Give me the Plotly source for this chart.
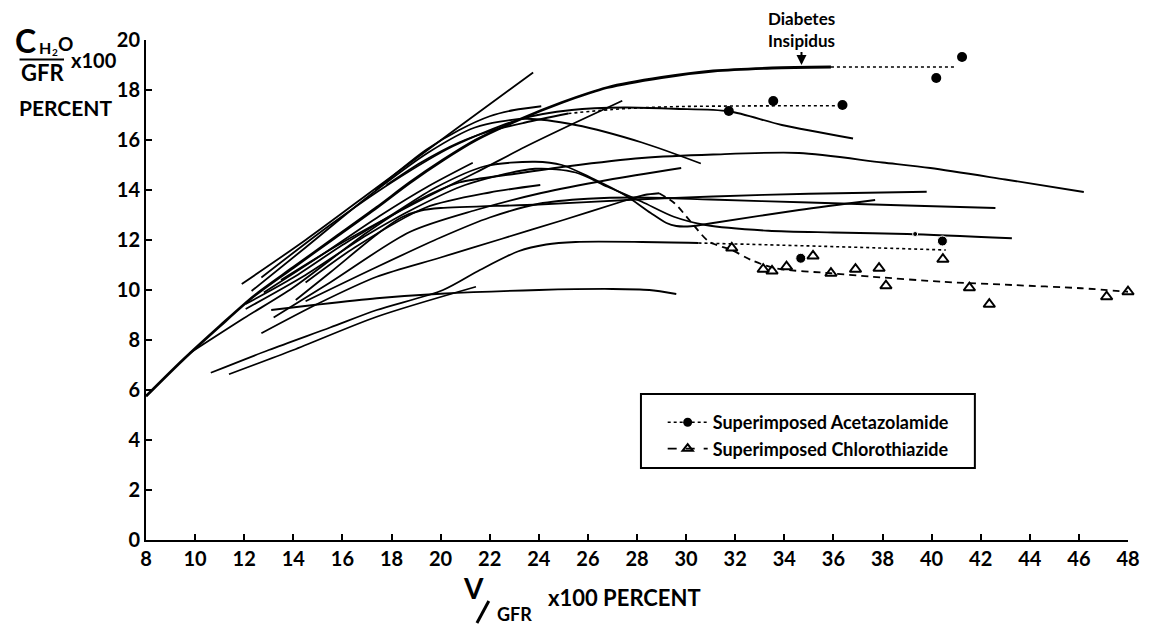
import plotly.graph_objects as go

# ---------------- tick values ----------------
X_TICKS = list(range(8, 50, 2))
Y_TICKS = list(range(0, 22, 2))

# ---------------- individual curves (data units) ----------------
di_x = [8.0, 9.5, 11.0, 12.4, 14.0, 15.7, 17.4, 18.74, 20.1, 21.44, 23.17, 24.94, 26.8, 29.0, 31.1, 33.5, 35.9]
di_y = [5.75, 7.2, 8.55, 9.76, 10.9, 12.1, 13.3, 14.29, 15.2, 16.0, 16.8, 17.5, 18.1, 18.5, 18.76, 18.88, 18.92]

r1_x = [11.9, 14.5, 17.4, 20.5, 23.77]
r1_y = [10.24, 12.0, 14.1, 16.35, 18.7]

r2_x = [17.34, 18.1, 19.4, 20.76, 22.0, 23.0, 24.1]
r2_y = [13.98, 14.6, 15.6, 16.4, 16.95, 17.2, 17.35]

c5_x = [17.8, 19.2, 20.75, 22.0, 23.45, 25.2]
c5_y = [14.2, 15.1, 15.9, 16.35, 16.7, 17.06]

r3_x = [13.5, 16.0, 19.4, 21.44, 23.45, 25.5, 27.4]
r3_y = [10.4, 11.9, 13.7, 14.7, 15.73, 16.7, 17.57]

r5_x = [12.7, 15.5, 18.0, 20.5, 23.3, 25.34, 27.5, 29.5, 31.74, 33.9, 36.8]
r5_y = [10.5, 12.6, 14.3, 15.75, 16.85, 17.2, 17.3, 17.25, 17.15, 16.6, 16.06]

r6_x = [12.3, 14.5, 17.0, 19.5, 21.4, 23.45, 25.5, 28.2, 30.6]
r6_y = [9.96, 11.7, 13.7, 15.5, 16.5, 16.85, 16.6, 15.9, 15.06]

r7_x = [9.77, 12.0, 14.0, 17.0, 19.0, 20.76, 23.05, 25.2, 28.2, 31.1, 34.6, 38.0, 39.95, 43.0, 46.2]
r7_y = [7.47, 8.88, 10.1, 12.3, 13.55, 14.3, 14.65, 14.95, 15.28, 15.42, 15.48, 15.1, 14.88, 14.42, 13.92]

r9_x = [13.2, 15.5, 18.74, 21.44, 24.1, 26.8, 29.8]
r9_y = [8.9, 10.3, 12.32, 13.2, 13.88, 14.4, 14.88]

h1_x = [12.06, 14.0, 16.0, 18.0, 19.8, 21.8, 23.85, 24.94, 26.15, 27.5, 28.56, 29.2, 29.6, 30.2, 31.1, 34.6, 37.7]
h1_y = [9.44, 10.5, 11.8, 13.0, 14.1, 14.95, 15.13, 15.0, 14.48, 13.8, 13.08, 12.68, 12.56, 12.55, 12.68, 13.2, 13.6]

h2_x = [12.06, 14.5, 17.0, 19.0, 21.0, 23.85, 25.5, 26.8, 28.2, 29.5, 30.8, 33.35, 36.0, 39.0, 43.27]
h2_y = [9.24, 10.6, 12.2, 13.3, 14.2, 14.85, 14.7, 14.13, 13.53, 12.93, 12.6, 12.37, 12.3, 12.24, 12.07]

r10_x = [14.1, 15.5, 17.5, 18.4, 19.2, 20.0, 24.0, 28.0, 31.1, 35.0, 39.8]
r10_y = [9.6, 10.7, 12.3, 12.9, 13.18, 13.28, 13.42, 13.62, 13.74, 13.85, 13.93]

r11_x = [14.5, 17.4, 20.0, 22.0, 24.0, 26.0, 28.0, 31.0, 35.0, 39.0, 42.6]
r11_y = [9.55, 10.92, 12.1, 12.9, 13.45, 13.65, 13.7, 13.62, 13.5, 13.38, 13.28]

r13_x = [12.7, 15.0, 17.4, 20.0, 22.5, 25.0, 27.36, 28.3, 28.9]
r13_y = [8.27, 9.45, 10.53, 11.3, 12.05, 12.8, 13.53, 13.8, 13.87]

c119_x = [10.64, 13.0, 15.5, 17.4, 20.1, 21.6, 23.17, 24.3, 25.5, 28.2, 30.5]
c119_y = [6.69, 7.6, 8.5, 9.2, 10.0, 10.8, 11.55, 11.82, 11.92, 11.92, 11.88]

d_x = [11.38, 14.0, 17.4, 21.44]
d_y = [6.63, 7.6, 8.93, 10.13]

flat_x = [13.1, 15.0, 17.4, 20.0, 24.0, 27.0, 28.5, 29.6]
flat_y = [9.2, 9.42, 9.67, 9.85, 10.0, 10.04, 10.0, 9.84]

c19_x = [14.5, 16.5, 19.4, 22.0, 24.06]
c19_y = [10.3, 11.7, 13.3, 13.9, 14.2]

c20_x = [12.8, 15.0, 17.5, 19.5, 21.31]
c20_y = [9.9, 11.3, 12.95, 14.15, 15.09]

# ---------------- superimposed drugs ----------------
di_dot_x = [35.9, 40.96]
di_dot_y = [18.92, 18.92]
di_pts_x = [40.19, 41.24]
di_pts_y = [18.48, 19.32]

acet_hi_line_x = [25.2, 27.0, 29.0, 32.0, 36.25]
acet_hi_line_y = [17.06, 17.22, 17.32, 17.36, 17.37]
acet_hi_pts_x = [31.74, 33.55, 36.37]
acet_hi_pts_y = [17.16, 17.56, 17.4]

acet_lo_line_x = [30.5, 35.5, 40.58]
acet_lo_line_y = [11.88, 11.75, 11.6]
acet_lo_pts_x = [34.67, 40.44, 39.33]
acet_lo_pts_y = [11.27, 11.96, 12.24]
acet_lo_pts_size = [10, 10, 5]

chloro_line_x = [28.9, 29.53, 30.24, 30.94, 31.86, 32.65, 33.63, 35.9, 37.6, 40.43, 43.27, 46.1, 48.0]
chloro_line_y = [13.87, 13.47, 12.67, 11.93, 11.6, 11.2, 10.87, 10.67, 10.53, 10.33, 10.2, 10.07, 9.93]
chloro_pts_x = [31.86, 33.14, 33.5, 34.09, 35.17, 35.9, 36.9, 37.86, 38.14, 40.46, 41.54, 42.35, 47.13, 48.0]
chloro_pts_y = [11.68, 10.83, 10.76, 10.93, 11.36, 10.67, 10.83, 10.87, 10.17, 11.23, 10.09, 9.43, 9.73, 9.93]

X_RANGE = [8, 48]
Y_RANGE = [0, 20]

# ---------------- layout geometry ----------------
W, H = 1152, 626
ML, MR, MT, MB = 146, 12, 40, 86
PW = W - ML - MR
PH = H - MT - MB
FONT = "Lato"


def pp(px, py):
    return (px - ML) / PW, (H - MB - py) / PH


fig = go.Figure()

solid_curves = [
    (r1_x, r1_y), (r2_x, r2_y), (c5_x, c5_y), (r3_x, r3_y), (r5_x, r5_y),
    (r6_x, r6_y), (r7_x, r7_y), (r9_x, r9_y), (h1_x, h1_y), (h2_x, h2_y),
    (r10_x, r10_y), (r11_x, r11_y), (r13_x, r13_y), (c119_x, c119_y),
    (d_x, d_y), (flat_x, flat_y), (c19_x, c19_y), (c20_x, c20_y),
]
for cx, cy in solid_curves:
    fig.add_trace(go.Scatter(x=cx, y=cy, mode="lines", showlegend=False, hoverinfo="skip",
                             line=dict(color="black", width=1.8, shape="spline", smoothing=0.8)))

fig.add_trace(go.Scatter(x=di_x, y=di_y, mode="lines", showlegend=False, hoverinfo="skip",
                         line=dict(color="black", width=2.8, shape="spline", smoothing=0.8)))

for lx_, ly_ in [(di_dot_x, di_dot_y), (acet_hi_line_x, acet_hi_line_y), (acet_lo_line_x, acet_lo_line_y)]:
    fig.add_trace(go.Scatter(x=lx_, y=ly_, mode="lines", showlegend=False, hoverinfo="skip",
                             line=dict(color="black", width=1.6, dash="dot", shape="spline")))

fig.add_trace(go.Scatter(x=chloro_line_x, y=chloro_line_y, mode="lines", showlegend=False, hoverinfo="skip",
                         cliponaxis=False,
                         line=dict(color="black", width=1.8, dash="7px,5px", shape="spline", smoothing=0.8)))

for px_, py_ in [(di_pts_x, di_pts_y), (acet_hi_pts_x, acet_hi_pts_y)]:
    fig.add_trace(go.Scatter(x=px_, y=py_, mode="markers", showlegend=False, cliponaxis=False,
                             marker=dict(symbol="circle", size=10, color="black", opacity=1)))
fig.add_trace(go.Scatter(x=acet_lo_pts_x, y=acet_lo_pts_y, mode="markers", showlegend=False, cliponaxis=False,
                         marker=dict(symbol="circle", size=acet_lo_pts_size, color="black", opacity=1)))
fig.add_trace(go.Scatter(x=chloro_pts_x, y=chloro_pts_y, mode="markers", showlegend=False, cliponaxis=False,
                         marker=dict(symbol="triangle-up-open", size=10, color="black", opacity=1,
                                     line=dict(width=2, color="black"))))

# legend entries
fig.add_trace(go.Scatter(x=[None], y=[None], mode="lines+markers", name="Superimposed Acetazolamide",
                         line=dict(color="black", width=1.6, dash="dot"),
                         marker=dict(symbol="circle", size=9, color="black")))
fig.add_trace(go.Scatter(x=[None], y=[None], mode="lines+markers", name="Superimposed Chlorothiazide",
                         line=dict(color="black", width=1.8, dash="dash"),
                         marker=dict(symbol="triangle-up-open", size=9, color="black",
                                     line=dict(width=2, color="black"))))

tickfont = dict(family=FONT, size=20, color="black", weight=700)
axis_common = dict(showgrid=False, zeroline=False, showline=True, linecolor="black", linewidth=2,
                   ticks="inside", ticklen=6, tickwidth=2, tickcolor="black", tickfont=tickfont)

fig.update_xaxes(range=X_RANGE, tickvals=X_TICKS, **axis_common)
fig.update_yaxes(range=Y_RANGE, tickvals=Y_TICKS, **axis_common)

ann = []


def label(text, px, py, size, **kw):
    x, y = pp(px, py)
    ann.append(dict(text=text, x=x, y=y, xref="paper", yref="paper", showarrow=False,
                    xanchor="center", yanchor="middle", borderpad=0,
                    font=dict(family=FONT, size=size, color="black", weight=700), **kw))


# y-axis title
label("C", 24, 40, 32)
label("H", 44, 47, 16)
label("2", 54, 52, 10)
label("O", 65, 43, 19)
label("GFR", 41, 73, 22)
label("x100", 93, 60, 20)
label("PERCENT", 65, 107, 21)
# x-axis title
label("V", 477, 588, 28)
label("GFR", 519, 614, 18)
label("x100 PERCENT", 630, 597, 22)

ann.append(dict(text="Diabetes<br>Insipidus", x=34.7, y=19.0, xref="x", yref="y",
                showarrow=True, ax=0, ay=-36, arrowhead=2, arrowsize=1, arrowwidth=2,
                arrowcolor="black", standoff=0,
                font=dict(family=FONT, size=17, color="black", weight=700)))

x0, y0 = pp(18, 59.5)
x1, y1 = pp(63, 59.5)
sx0, sy0 = pp(481, 623)
sx1, sy1 = pp(493, 601)
bx0, by0 = pp(647, 394)
bx1, by1 = pp(985, 468)
shapes = [
    dict(type="line", xref="paper", yref="paper", x0=x0, y0=y0, x1=x1, y1=y1,
         line=dict(color="black", width=2)),
    dict(type="line", xref="paper", yref="paper", x0=sx0, y0=sy0, x1=sx1, y1=sy1,
         line=dict(color="black", width=3)),
    dict(type="rect", xref="paper", yref="paper", x0=bx0, y0=by0, x1=bx1, y1=by1,
         line=dict(color="black", width=2)),
]

lx, ly = pp(669, 404)
fig.update_layout(
    width=W, height=H,
    margin=dict(l=ML, r=MR, t=MT, b=MB),
    paper_bgcolor="white", plot_bgcolor="white",
    font=dict(family=FONT, color="black"),
    annotations=ann, shapes=shapes,
    showlegend=True,
    legend=dict(x=lx, y=ly, xanchor="left", yanchor="top", bgcolor="rgba(0,0,0,0)",
                borderwidth=0, itemwidth=40, tracegroupgap=0,
                font=dict(family=FONT, size=18, color="black", weight=700)),
)

fig.write_html("out.html", config={"displayModeBar": False},
               post_script="document.body.style.margin='0px';")
